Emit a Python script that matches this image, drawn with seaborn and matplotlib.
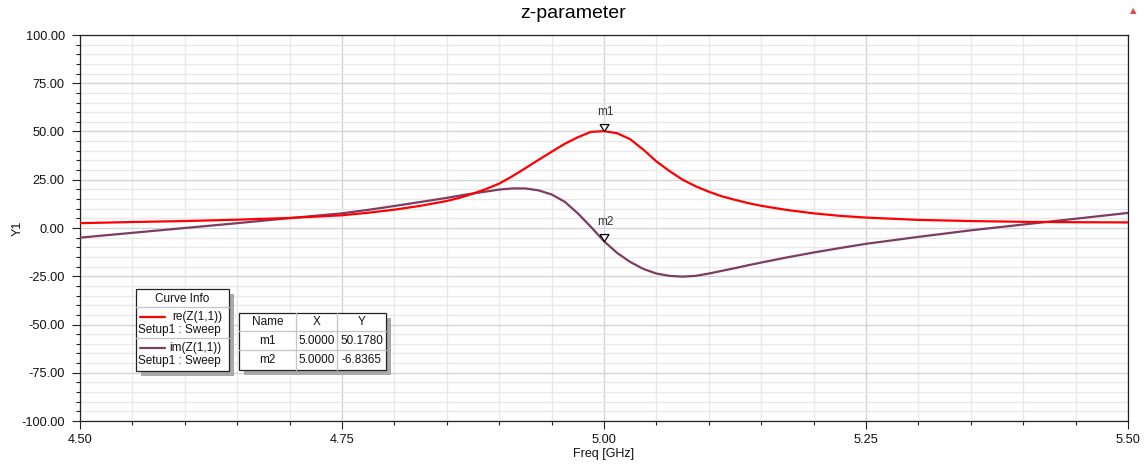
import numpy as np
import pandas as pd
import matplotlib
matplotlib.use("Agg")
import matplotlib.pyplot as plt
import seaborn as sns
from matplotlib.lines import Line2D
from matplotlib.patches import Rectangle
from matplotlib.ticker import MultipleLocator, FormatStrFormatter

# Frequency sweep [GHz]
freq = [4.50, 4.55, 4.60, 4.65, 4.70, 4.75, 4.775, 4.80, 4.825, 4.85, 4.8625,
        4.875, 4.8875, 4.90, 4.9125, 4.925, 4.9375, 4.95, 4.9625, 4.975, 4.9875,
        5.00, 5.0125, 5.025, 5.0375, 5.05, 5.0625, 5.075, 5.0875, 5.10, 5.1125,
        5.125, 5.1375, 5.15, 5.175, 5.20, 5.225, 5.25, 5.30, 5.35, 5.40, 5.45, 5.50]

# re(Z(1,1))
re_z11 = [2.5, 3.1, 3.6, 4.3, 5.2, 6.6, 7.9, 9.5, 11.5, 14.0, 15.7,
          17.8, 20.2, 23.0, 26.8, 31.0, 35.3, 39.5, 43.6, 47.0, 49.8,
          50.178, 49.1, 46.0, 40.6, 34.5, 29.5, 25.0, 21.6, 18.8, 16.4,
          14.6, 12.9, 11.5, 9.3, 7.6, 6.3, 5.4, 4.2, 3.6, 3.2, 3.0, 2.9]

# im(Z(1,1))
im_z11 = [-5.0, -2.5, 0.0, 2.5, 5.1, 7.6, 9.4, 11.4, 13.5, 15.6, 16.8,
          17.9, 18.9, 19.9, 20.5, 20.5, 19.5, 17.4, 13.6, 7.6, 0.6,
          -6.8365, -12.9, -17.6, -21.2, -23.6, -24.8, -25.2, -24.8, -23.6, -22.2,
          -20.8, -19.3, -17.9, -15.2, -12.7, -10.4, -8.2, -4.6, -1.2, 1.8, 4.8, 7.8]

marker_names = ["m1", "m2"]
marker_x = [5.0, 5.0]
marker_y = [50.1780, -6.8365]

curve_names = ["re(Z(1,1))", "im(Z(1,1))"]
curve_colors = ["#ff0000", "#7d3c62"]
sweep_name = "Setup1 : Sweep"

W, H = 1146, 465
sns.set_style("white")
plt.rcParams["font.family"] = ["Liberation Sans", "DejaVu Sans"]

fig = plt.figure(figsize=(W / 100, H / 100), dpi=100)
ax = fig.add_axes([80 / W, 1 - 421 / H, 1048 / W, 386 / H])

df = pd.DataFrame({"freq": freq, "re": re_z11, "im": im_z11})
sns.lineplot(data=df, x="freq", y="re", color=curve_colors[0], lw=1.6, ax=ax, zorder=4)
sns.lineplot(data=df, x="freq", y="im", color=curve_colors[1], lw=1.6, ax=ax, zorder=3)

ax.set_xlim(4.5, 5.5)
ax.set_ylim(-100, 100)
ax.xaxis.set_major_locator(MultipleLocator(0.25))
ax.xaxis.set_minor_locator(MultipleLocator(0.05))
ax.yaxis.set_major_locator(MultipleLocator(25))
ax.yaxis.set_minor_locator(MultipleLocator(5))
ax.xaxis.set_major_formatter(FormatStrFormatter("%.2f"))
ax.yaxis.set_major_formatter(FormatStrFormatter("%.2f"))

ax.grid(True, which="major", color="#d4d4d4", lw=1.0, zorder=0)
ax.grid(True, which="minor", color="#e9e9e9", lw=1.0, zorder=0)
ax.set_axisbelow(True)

ax.tick_params(which="major", direction="out", length=6, width=0.8, color="#222222",
               labelsize=9.2, labelcolor="#111111", left=True, bottom=True)
ax.tick_params(which="minor", direction="out", length=3, width=0.8, color="#222222",
               left=True, bottom=True)
ax.tick_params(axis="y", which="major", pad=5)
ax.tick_params(axis="x", which="major", pad=3)
for s in ax.spines.values():
    s.set_color("#222222")
    s.set_linewidth(0.9)

ax.set_xlabel("Freq [GHz]", fontsize=9, color="#111111", labelpad=2)
ax.set_ylabel("Y1", fontsize=9, color="#111111")
ax.yaxis.set_label_coords(-56 / 1048, 0.5)

fig.text(0.5, 1 - 14 / H, "z-parameter", ha="center", va="center", fontsize=14, color="#000000")
fig.text(1133 / W, 1 - 11 / H, "\u25B2", ha="center", va="center", fontsize=6,
         color="#e04848", family=["DejaVu Sans"])

# Marker triangles with the tip at the data point
tri = [(-0.65, 1.0), (0.65, 1.0), (0.0, 0.0), (-0.65, 1.0)]
for name, mx, my in zip(marker_names, marker_x, marker_y):
    ax.plot([mx], [my], marker=tri, ms=10, mfc="white", mec="black", mew=0.9,
            ls="none", zorder=6)
    ax.annotate(name, (mx, my), xytext=(1, 13.5), textcoords="offset points",
                ha="center", va="center", fontsize=8.5, color="#333333", zorder=6)


def fx(px):
    return px / W


def fy(py):
    return 1 - py / H


def box(x0, y0, x1, y1, shadow=5):
    fig.add_artist(Rectangle((fx(x0 + shadow), fy(y1 + shadow)), (x1 - x0) / W, (y1 - y0) / H,
                             transform=fig.transFigure, facecolor="#a9a9a9",
                             edgecolor="none", zorder=20))
    fig.add_artist(Rectangle((fx(x0), fy(y1)), (x1 - x0) / W, (y1 - y0) / H,
                             transform=fig.transFigure, facecolor="white",
                             edgecolor="#222222", lw=0.9, zorder=21))


def hline(x0, x1, y, color="#c4c4c4"):
    fig.add_artist(Line2D([fx(x0), fx(x1)], [fy(y), fy(y)], transform=fig.transFigure,
                          color=color, lw=0.9, zorder=22))


def vline(x, y0, y1, color="#c4c4c4"):
    fig.add_artist(Line2D([fx(x), fx(x)], [fy(y0), fy(y1)], transform=fig.transFigure,
                          color=color, lw=0.9, zorder=22))


def label(x, y, s, ha="left"):
    fig.text(fx(x), fy(y), s, ha=ha, va="center", fontsize=8.5, color="#111111", zorder=23)


# Curve info box
box(136, 289, 229, 371)
label(182.5, 298.5, "Curve Info", ha="center")
hline(136, 229, 307)
for i, (name, col) in enumerate(zip(curve_names, curve_colors)):
    yb = 317 + i * 31
    fig.add_artist(Line2D([fx(140), fx(165)], [fy(yb), fy(yb)], transform=fig.transFigure,
                          color=col, lw=1.6, zorder=22))
    label(222, yb, name, ha="right")
    label(138, yb + 12.5, sweep_name)
hline(136, 229, 338.5)

# Marker table
box(239, 313, 386, 370)
cols = [239, 296, 337, 386]
rows = [313, 331, 350, 370]
for c in cols[1:-1]:
    vline(c, 313, 370)
for r in rows[1:-1]:
    hline(239, 386, r)
header = ["Name", "X", "Y"]
cells = [header] + [[n, f"{x:.4f}", f"{y:.4f}"] for n, x, y in zip(marker_names, marker_x, marker_y)]
for ri, row in enumerate(cells):
    yc = (rows[ri] + rows[ri + 1]) / 2
    for ci, txt in enumerate(row):
        xc = (cols[ci] + cols[ci + 1]) / 2
        label(xc, yc, txt, ha="center")

fig.savefig("out.png", dpi=100)
